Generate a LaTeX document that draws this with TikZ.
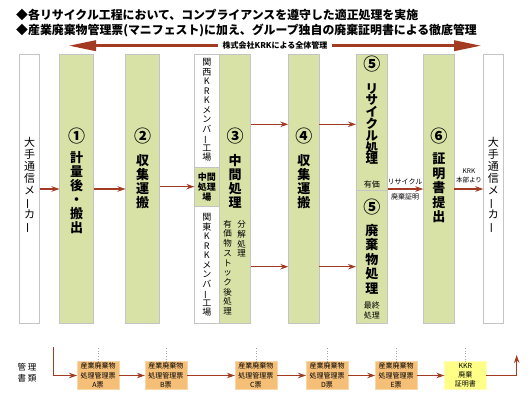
\documentclass[tikz,border=0pt]{standalone}
\usepackage{fontspec}
\usepackage{graphicx}
\setmainfont{Noto Sans CJK JP}
\usetikzlibrary{arrows.meta}
\definecolor{grn}{HTML}{D8E2A6}
\definecolor{gbd}{HTML}{C4C4C4}
\definecolor{ared}{HTML}{A33A22}
\definecolor{org}{HTML}{F5BF78}
\definecolor{orgbd}{HTML}{F8D8A8}
\definecolor{ylw}{HTML}{FFFF88}
\newcommand{\vb}{\rotatebox[origin=c]{90}{ー}}
\newcommand{\fs}[2]{\fontsize{#1}{#2}\selectfont}
\begin{document}
\begin{tikzpicture}[x=1pt,y=-1pt,
  wbox/.style={draw=gbd, fill=white, line width=0.8pt, inner sep=0pt, outer sep=0pt, minimum height=269pt},
  gbox/.style={draw=gbd, fill=grn, line width=0.8pt, inner sep=0pt, outer sep=0pt, minimum height=269pt},
  vt/.style={align=center, inner sep=0pt},
  big/.style={vt, font=\bfseries\fs{13}{14.5}},
  num/.style={vt, font=\bfseries\fs{17}{18}},
  arr/.style={draw=ared, line width=1.2pt, -{Stealth[length=8pt,width=5.5pt]}},
  doc/.style={draw=orgbd, fill=org, line width=0.6pt, inner sep=0pt, outer sep=0pt, minimum width=42pt, minimum height=27.6pt, align=center, font=\fs{7}{9.2}},
  dots/.style={draw=gray!70, dotted, line width=0.6pt}
]
\useasboundingbox (0,0) rectangle (530,412);

% header
\node[anchor=west, inner sep=0pt, font=\bfseries\fs{11.9}{14}] (h1) at (16,15) {◆各リサイクル工程において、コンプライアンスを遵守した適正処理を実施};
\node[anchor=west, inner sep=0pt, font=\bfseries\fs{11.9}{14}] (h2) at (16,30) {◆産業廃棄物管理票(マニフェスト)に加え、グループ独自の廃棄証明書による徹底管理};

% overall management arrow
\coordinate (gl) at (68,45.7);
\coordinate (gr) at (482,45.7);
\draw[ared, line width=3.5pt, {Triangle[length=28pt,width=10pt]}-{Triangle[length=28pt,width=10pt]}] (gl) -- (gr);
\node[fill=white, inner xsep=5pt, inner ysep=1pt, font=\bfseries\fs{8}{9}] (gm) at (275,45.7) {株式会社KRKによる全体管理};

% columns
\node[wbox, minimum width=20pt] (L) at (29.5,189) {};
\node[gbox, minimum width=34pt] (b1) at (76.5,189) {};
\node[gbox, minimum width=34pt] (b2) at (142.5,189) {};
\node[wbox, minimum width=25pt] (kw) at (206.8,189) {};
\node[gbox, minimum width=31.4pt] (b3) at (235,189) {};
\node[gbox, minimum width=31pt] (b4) at (303.8,189) {};
\node[gbox, minimum width=31.7pt] (b5) at (371.85,189) {};
\node[gbox, minimum width=31pt] (b6) at (438.8,189) {};
\node[wbox, minimum width=20pt] (R) at (493.3,189) {};
\node[draw=gbd, fill=grn, line width=0.8pt, inner sep=0pt, outer sep=0pt, minimum width=25pt, minimum height=38.7pt] (mid) at (206.8,186.65) {};
\draw[gbd, line width=0.8pt] ([yshift=-1pt]b5.west) -- ([yshift=-1pt]b5.east);

% texts in columns
\node[vt, font=\fs{11}{12}] (tL) at (29.5,185.5) {大\\手\\通\\信\\メ\\\vb\\カ\\\vb};
\node[vt, font=\fs{11}{12}] (tR) at (493.3,185) {大\\手\\通\\信\\メ\\\vb\\カ\\\vb};

\node[num] (n1) at (76.5,136) {①};
\node[big, font=\bfseries\fs{13}{14}] (t1) at (76.5,193) {計\\量\\後\\・\\搬\\出};
\node[num] (n2) at (142.5,136) {②};
\node[big, font=\bfseries\fs{13}{14}] (t2) at (142.5,181.5) {収\\集\\運\\搬};

\node[vt, font=\fs{9}{9.5}] (tk1) at (206.8,110) {関\\西\\K\\R\\K\\メ\\ン\\バ\\\vb\\工\\場};
\node[vt, font=\fs{9}{9.5}] (tk2) at (206.8,265) {関\\東\\K\\R\\K\\メ\\ン\\バ\\\vb\\工\\場};
\node[vt, font=\bfseries\fs{9}{10}] (tm) at (206.8,186.65) {中間\\処理\\場};

\node[num] (n3) at (235,136) {③};
\node[big, font=\bfseries\fs{13}{14}] (t3) at (235,181.5) {中\\間\\処\\理};
\node[vt, font=\fs{8.5}{9.7}] (t3a) at (241.5,239) {分\\解\\処\\理};
\node[vt, font=\fs{8.5}{9.7}] (t3b) at (227.7,267.5) {有\\価\\物\\ス\\ト\\ッ\\ク\\後\\処\\理};

\node[num] (n4) at (303.8,136) {④};
\node[big, font=\bfseries\fs{13}{14}] (t4) at (303.8,181.5) {収\\集\\運\\搬};

\node[num] (n5a) at (371.85,64) {⑤};
\node[big, font=\bfseries\fs{12.5}{11.8}] (t5a) at (371.85,124) {リ\\サ\\イ\\ク\\ル\\処\\理};
\node[vt, font=\fs{8}{9}] (t5as) at (371.85,184) {有価};
\node[num] (n5b) at (371.85,206.7) {⑤};
\node[big] (t5b) at (371.85,259) {廃\\棄\\物\\処\\理};
\node[vt, font=\fs{8}{10}] (t5bs) at (371.85,310) {最終\\処理};

\node[num] (n6) at (438.8,136) {⑥};
\node[big] (t6) at (438.8,188) {証\\明\\書\\提\\出};

% main flow arrows
\coordinate (up) at (0,124.3);
\coordinate (dn) at (0,266.7);
\draw[arr] (L.east) -- (b1.west);
\draw[arr] (b1.east) -- (b2.west);
\draw[arr] (b2.east |- mid.west) -- (mid.west);
\draw[arr] (b3.east |- up) -- (b4.west |- up);
\draw[arr] (b3.east |- dn) -- (b4.west |- dn);
\draw[arr] (b4.east |- up) -- (b5.west |- up);
\draw[arr] (b4.east |- dn) -- (b5.west |- dn);
\draw[arr] (b5.east) -- (b6.west);
\draw[arr] (b6.east) -- (R.west);
\node[vt, font=\fs{7}{8}] (la1) at (405,181.7) {リサイクル};
\node[vt, font=\fs{7}{8}] (la2) at (405,196.7) {廃棄証明};
\node[vt, font=\fs{6.5}{8.3}] (la3) at (469,175.8) {KRK\\本部より};

% management documents
\node[vt, font=\fs{8.5}{11}] (kd) at (27,372.5) {管\hspace{2pt}理\\書\hspace{2pt}類};
\node[doc] (A) at (98,375.5) {産業廃棄物\\処理管理票\\A票};
\node[doc] (B) at (165.85,375.5) {産業廃棄物\\処理管理票\\B票};
\node[doc] (C) at (255.85,375.5) {産業廃棄物\\処理管理票\\C票};
\node[doc] (D) at (327,375.5) {産業廃棄物\\処理管理票\\D票};
\node[doc] (E) at (396.15,375.5) {産業廃棄物\\処理管理票\\E票};
\node[doc, fill=ylw, draw=ylw!60!white] (K) at (465.35,375.5) {KKR\\廃棄\\証明書};
\foreach \n in {A,B,C,D,E,K} \draw[dots] (\n.north) -- ++(0,-14.7);
\coordinate (s0) at (53.3,347);
\coordinate (e0) at (516.7,355);
\draw[arr] (s0) |- (A.west);
\draw[arr] (A.east) -- (B.west);
\draw[arr] (B.east) -- (C.west);
\draw[arr] (C.east) -- (D.west);
\draw[arr] (D.east) -- (E.west);
\draw[arr] (E.east) -- (K.west);
\draw[arr] (K.east) -| (e0);
\end{tikzpicture}
\end{document}
